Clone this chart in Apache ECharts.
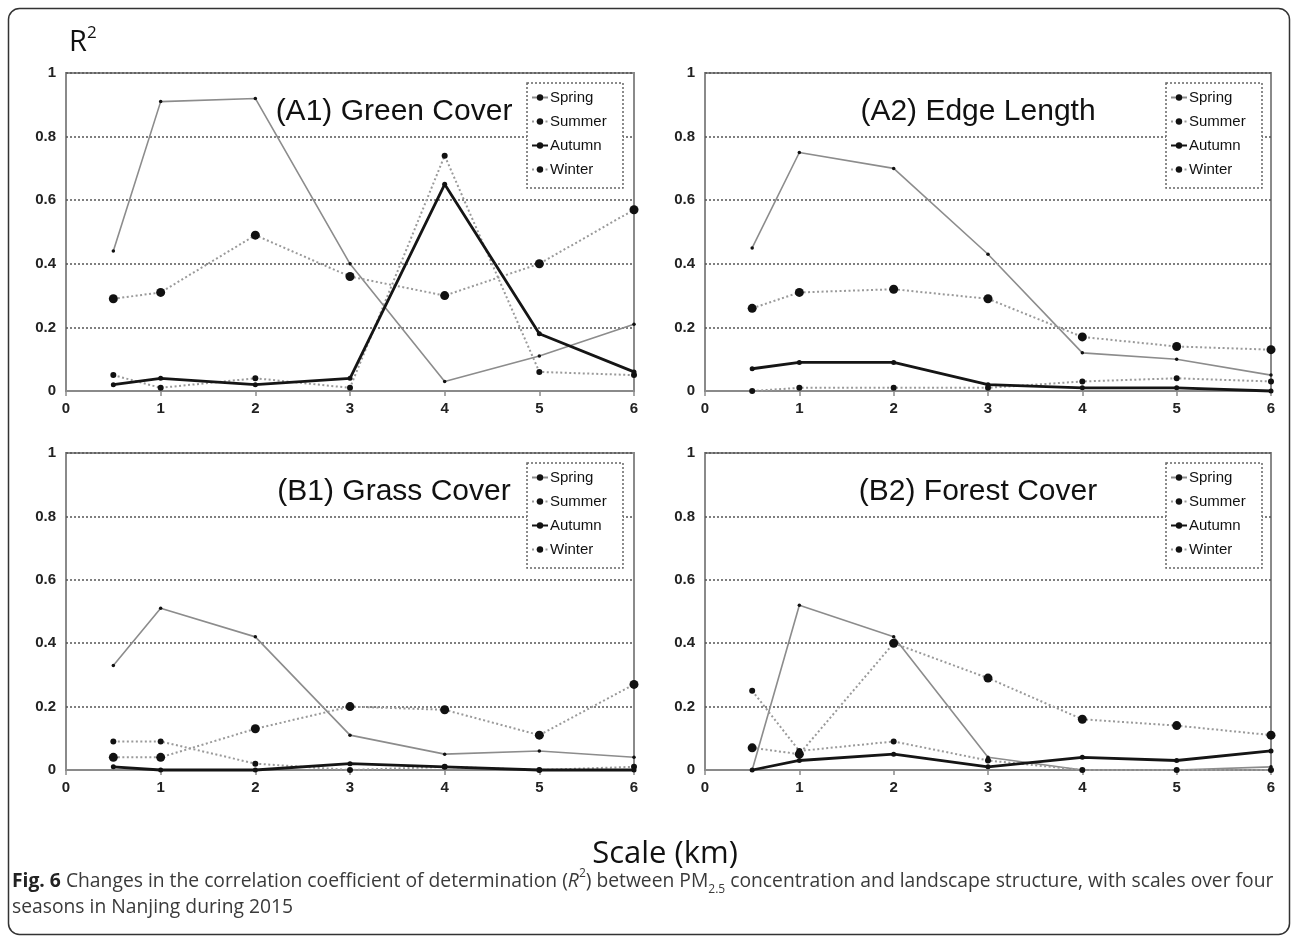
<!DOCTYPE html>
<html>
<head>
<meta charset="utf-8">
<title>Fig. 6</title>
<script src="https://cdn.jsdelivr.net/npm/echarts@6/dist/echarts.min.js"></script>
<style>
  html, body { margin: 0; padding: 0; background: #fff; }
  #chart { width: 1292px; height: 940px; }
</style>
</head>
<body>
<div id="chart"></div>
<script>
// scale (km) at which R2 was computed
const scales = [0.5, 1, 2, 3, 4, 5, 6];
const seasons = ["Spring", "Summer", "Autumn", "Winter"];
const xTicks = [0, 1, 2, 3, 4, 5, 6];
const yTicks = [0, 0.2, 0.4, 0.6, 0.8, 1];

// (A1) Green Cover
const greenSpring = [0.44, 0.91, 0.92, 0.40, 0.03, 0.11, 0.21];
const greenSummer = [0.29, 0.31, 0.49, 0.36, 0.30, 0.40, 0.57];
const greenAutumn = [0.02, 0.04, 0.02, 0.04, 0.65, 0.18, 0.06];
const greenWinter = [0.05, 0.01, 0.04, 0.01, 0.74, 0.06, 0.05];

// (A2) Edge Length
const edgeSpring = [0.45, 0.75, 0.70, 0.43, 0.12, 0.10, 0.05];
const edgeSummer = [0.26, 0.31, 0.32, 0.29, 0.17, 0.14, 0.13];
const edgeAutumn = [0.07, 0.09, 0.09, 0.02, 0.01, 0.01, 0.00];
const edgeWinter = [0.00, 0.01, 0.01, 0.01, 0.03, 0.04, 0.03];

// (B1) Grass Cover
const grassSpring = [0.33, 0.51, 0.42, 0.11, 0.05, 0.06, 0.04];
const grassSummer = [0.04, 0.04, 0.13, 0.20, 0.19, 0.11, 0.27];
const grassAutumn = [0.01, 0.00, 0.00, 0.02, 0.01, 0.00, 0.00];
const grassWinter = [0.09, 0.09, 0.02, 0.00, 0.01, 0.00, 0.01];

// (B2) Forest Cover
const forestSpring = [0.00, 0.52, 0.42, 0.04, 0.00, 0.00, 0.01];
const forestSummer = [0.07, 0.05, 0.40, 0.29, 0.16, 0.14, 0.11];
const forestAutumn = [0.00, 0.03, 0.05, 0.01, 0.04, 0.03, 0.06];
const forestWinter = [0.25, 0.06, 0.09, 0.03, 0.00, 0.00, 0.00];

const panelTitles = ["(A1) Green Cover", "(A2) Edge Length", "(B1) Grass Cover", "(B2) Forest Cover"];
const panelData = [
  [greenSpring, greenSummer, greenAutumn, greenWinter],
  [edgeSpring, edgeSummer, edgeAutumn, edgeWinter],
  [grassSpring, grassSummer, grassAutumn, grassWinter],
  [forestSpring, forestSummer, forestAutumn, forestWinter],
];

const chart = echarts.init(document.getElementById("chart"));

// plot rectangles of the four panels (px)
const panels = [
  { left: 66, top: 73, width: 568, height: 318 },
  { left: 705, top: 73, width: 566, height: 318 },
  { left: 66, top: 453, width: 568, height: 317 },
  { left: 705, top: 453, width: 566, height: 317 },
];

const seasonStyle = {
  Spring: { line: { color: "#8c8c8c", width: 1.6, type: "solid" }, size: 3.5 },
  Summer: { line: { color: "#9a9a9a", width: 2, type: [2, 2.5] }, size: 9 },
  Autumn: { line: { color: "#151515", width: 2.8, type: "solid" }, size: 5 },
  Winter: { line: { color: "#9a9a9a", width: 2, type: [2, 2.5] }, size: 6 },
};

const font = "Liberation Sans, Arial, sans-serif";
const capFont = "Open Sans, sans-serif";

const grids = [];
const xAxes = [];
const yAxes = [];
const series = [];
const legends = [];
const graphics = [];

panels.forEach(function (p, i) {
  grids.push({
    left: p.left, top: p.top, width: p.width, height: p.height,
    show: true, borderColor: "#8a8a8a", borderWidth: 2, backgroundColor: "transparent",
  });
  xAxes.push({
    type: "value", gridIndex: i, min: xTicks[0], max: xTicks[xTicks.length - 1], interval: 1,
    axisLine: { show: true, onZero: false, lineStyle: { color: "#8a8a8a", width: 2 } },
    axisTick: { show: true, length: 5, lineStyle: { color: "#8a8a8a", width: 1.5 } },
    axisLabel: { margin: 10, color: "#222", fontSize: 15, fontWeight: "bold", fontFamily: font },
    splitLine: { show: false },
  });
  yAxes.push({
    type: "value", gridIndex: i, min: yTicks[0], max: yTicks[yTicks.length - 1], interval: 0.2,
    axisLine: { show: false },
    axisTick: { show: false },
    axisLabel: { margin: 10, color: "#222", fontSize: 15, fontWeight: "bold", fontFamily: font },
    splitLine: { show: true, lineStyle: { color: "#555", width: 1.5, type: [2, 2] } },
  });

  seasons.forEach(function (s, k) {
    const vals = panelData[i][k];
    series.push({
      name: s,
      type: "line",
      xAxisIndex: i,
      yAxisIndex: i,
      data: scales.map(function (x, j) { return [x, vals[j]]; }),
      symbol: "circle",
      symbolSize: seasonStyle[s].size,
      showSymbol: true,
      clip: false,
      lineStyle: seasonStyle[s].line,
      itemStyle: { color: "#111" },
      z: 3 + (s === "Autumn" ? 1 : 0),
    });
  });

  // dotted legend box
  graphics.push({
    type: "rect",
    shape: { x: p.left + 461, y: p.top + 10, width: 96, height: 105 },
    style: { fill: "#fff", stroke: "#666", lineWidth: 1.5, lineDash: [2, 2] },
    z: 5,
  });
  legends.push({
    data: seasons,
    orient: "vertical",
    left: p.left + 465,
    top: p.top + 17,
    padding: 0,
    itemWidth: 16,
    itemHeight: 8,
    itemGap: 9,
    textStyle: { fontSize: 15, fontFamily: font, color: "#111", padding: [0, 0, 0, -3] },
    z: 6,
  });

  // panel title
  graphics.push({
    type: "text",
    x: p.left + (i % 2 === 0 ? 328 : 273),
    y: p.top + 39,
    style: {
      text: panelTitles[i], fontSize: 30, fontFamily: font, fill: "#111",
      textAlign: "center", textVerticalAlign: "middle",
    },
    z: 6,
  });
});

// R^2 label
graphics.push({
  type: "text", x: 69, y: 25, z: 6,
  style: {
    text: "{r|R}{s|2}",
    rich: {
      r: { fontSize: 29, fontFamily: capFont, fill: "#111", lineHeight: 32, verticalAlign: "bottom" },
      s: { fontSize: 17, fontFamily: capFont, fill: "#111", lineHeight: 16, verticalAlign: "top" },
    },
  },
});

// x-axis title
graphics.push({
  type: "text", x: 665, y: 854, z: 6,
  style: {
    text: "Scale (km)", fontSize: 31, fontFamily: capFont, fill: "#111",
    textAlign: "center", textVerticalAlign: "middle",
  },
});

// caption
graphics.push({
  type: "text", x: 12, y: 868, z: 6,
  style: {
    text: "{b|Fig. 6}{t| Changes in the correlation coefficient of determination (}{i|R}{sup|2}{t|) between PM}{sub|2.5}{t| concentration and landscape structure, with scales over four}",
    rich: {
      b: { fontSize: 19.3, fontWeight: "bold", fontFamily: capFont, fill: "#222", lineHeight: 28, verticalAlign: "middle" },
      t: { fontSize: 19.3, fontFamily: capFont, fill: "#3a3a3a", lineHeight: 28, verticalAlign: "middle" },
      i: { fontSize: 19.3, fontStyle: "italic", fontFamily: capFont, fill: "#3a3a3a", lineHeight: 28, verticalAlign: "middle" },
      sup: { fontSize: 12, fontFamily: capFont, fill: "#3a3a3a", lineHeight: 14, verticalAlign: "top" },
      sub: { fontSize: 12, fontFamily: capFont, fill: "#3a3a3a", lineHeight: 14, verticalAlign: "bottom" },
    },
  },
});
graphics.push({
  type: "text", x: 12, y: 898, z: 6,
  style: { text: "seasons in Nanjing during 2015", fontSize: 19.3, fontFamily: capFont, fill: "#3a3a3a" },
});

// outer rounded frame
graphics.push({
  type: "rect",
  shape: { x: 8.5, y: 8.5, width: 1281, height: 926, r: 11 },
  style: { fill: "none", stroke: "#333", lineWidth: 1.5 },
  z: 1,
});

const option = {
  animation: false,
  backgroundColor: "#fff",
  grid: grids,
  xAxis: xAxes,
  yAxis: yAxes,
  legend: legends,
  series: series,
  graphic: graphics,
};

chart.setOption(option);
</script>
</body>
</html>
